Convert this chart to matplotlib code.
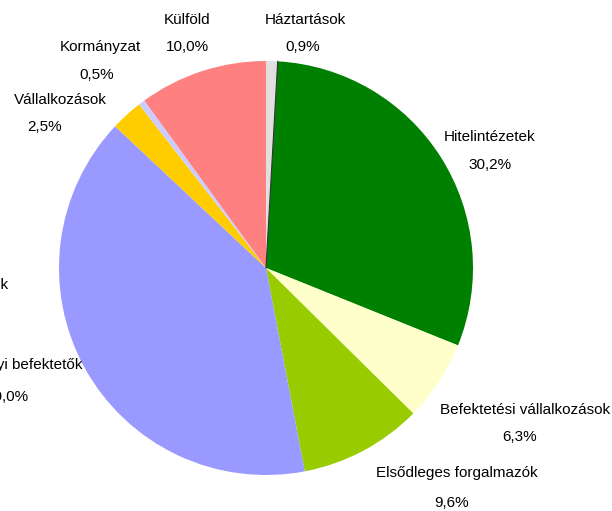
import matplotlib.pyplot as plt
import numpy as np

labels = ["Háztartások", "Hitelintézetek", "Befektetési vállalkozások",
          "Elsődleges forgalmazók", "Intézményi befektetők",
          "Vállalkozások", "Kormányzat", "Külföld"]
shares = [0.9, 30.2, 6.3, 9.6, 40.0, 2.5, 0.5, 10.0]
colors = ["#E0E0E0", "#008000", "#FFFFCC", "#99CC00", "#9999FF",
          "#FFCC00", "#CCCCFF", "#FF8080"]

plt.rcParams["font.family"] = ["Liberation Sans", "DejaVu Sans"]

W, H = 612, 511
fig = plt.figure(figsize=(W / 100, H / 100), dpi=100)
ax = fig.add_axes([0, 0, 1, 1])

cx, cy, r = 266, H - 268, 207
ax.pie(shares, colors=colors, startangle=90, counterclock=False,
       center=(cx, cy), radius=r, frame=True)
ax.set_xlim(0, W)
ax.set_ylim(0, H)
ax.set_aspect("equal")
ax.axis("off")

# thin boundary line between Háztartások and Hitelintézetek
a = np.deg2rad(90 - shares[0] * 3.6)
ax.plot([cx, cx + r * np.cos(a)], [cy, cy + r * np.sin(a)], color="#333333", lw=0.8)

# label positions (pixel coords, from top-left)
pos = {
    "Háztartások": (305, 20, 303, 47, "center"),
    "Hitelintézetek": (490, 137, 490, 165, "center"),
    "Befektetési vállalkozások": (525, 410, 520, 437, "center"),
    "Elsődleges forgalmazók": (457, 473, 452, 503, "center"),
    "Intézményi befektetők": (82, 365, 29, 397, "right"),
    "Vállalkozások": (60, 100, 45, 127, "center"),
    "Kormányzat": (100, 47, 97, 75, "center"),
    "Külföld": (187, 20, 187, 47, "center"),
}
fs = 11
for name, val in zip(labels, shares):
    x1, y1, x2, y2, ha = pos[name]
    ax.text(x1, H - y1, name, ha=ha, va="center", fontsize=fs)
    ax.text(x2, H - y2, f"{val:.1f}%".replace(".", ","), ha=ha, va="center", fontsize=fs)

# label of a series cut off at the left edge
ax.text(8, H - 285, "Egyéb pénzügyi vállalatok", ha="right", va="center", fontsize=fs)

fig.savefig("out.png", dpi=100)
